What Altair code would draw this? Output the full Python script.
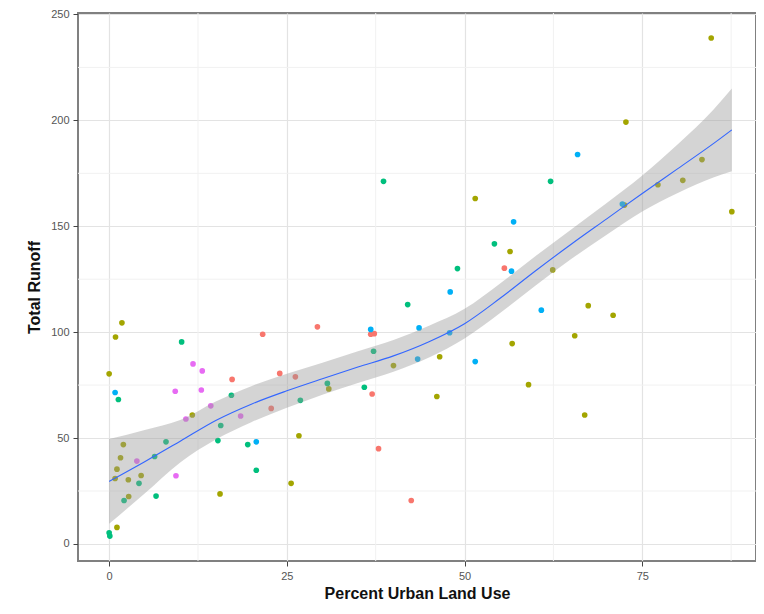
import altair as alt
import pandas as pd

# ---- scatter points (x = % urban land use, y = total runoff) ----
red_x = [21.6, 29.3, 36.8, 37.3, 24.0, 26.2, 17.3, 37.0, 22.8, 37.9, 42.5, 55.6]
red_y = [99.0, 102.5, 99.0, 99.3, 80.5, 78.9, 77.7, 70.8, 64.0, 45.0, 20.5, 130.2]

olive_x = [1.8, 0.9, 0.0, 11.7, 2.0, 1.6, 1.1, 0.84, 2.7, 4.5, 2.75, 15.6, 1.1, 30.9, 26.7,
           25.6, 51.5, 56.4, 62.4, 46.5, 40.0, 56.7, 59.0, 46.1, 72.7, 72.5, 77.2, 67.4,
           70.9, 65.5, 66.9, 84.7, 83.4, 80.7, 87.6]
olive_y = [104.4, 97.7, 80.3, 60.9, 46.9, 40.7, 35.3, 30.9, 30.3, 32.3, 22.4, 23.6, 7.8, 73.2,
           51.1, 28.6, 163.1, 138.1, 129.4, 88.4, 84.2, 94.6, 75.2, 69.6, 199.2, 160.0, 169.6,
           112.5, 108.0, 98.3, 60.9, 238.9, 181.5, 171.7, 156.9]

green_x = [10.2, 1.3, 17.2, 15.7, 8.0, 15.3, 19.5, 6.4, 20.7, 4.2, 2.1, 6.6, 0.0, 0.1, 37.2,
           30.7, 35.9, 26.9, 38.6, 62.1, 54.2, 49.0, 42.0]
green_y = [95.4, 68.2, 70.2, 55.9, 48.2, 48.8, 46.9, 41.3, 34.8, 28.6, 20.5, 22.6, 5.3, 3.7,
           91.0, 75.8, 74.0, 67.8, 171.2, 171.2, 141.7, 130.0, 113.0]

blue_x = [0.84, 20.7, 36.8, 56.9, 56.6, 47.98, 60.8, 43.6, 47.9, 43.4, 51.5, 65.9, 72.2]
blue_y = [71.5, 48.2, 101.3, 152.1, 128.8, 119.0, 110.4, 102.0, 99.7, 87.3, 86.1, 183.9, 160.5]

magenta_x = [11.8, 13.1, 9.3, 12.97, 14.3, 10.8, 18.5, 3.9, 9.4]
magenta_y = [85.0, 81.7, 72.1, 72.7, 65.2, 59.0, 60.4, 39.1, 32.2]

group_names = ["1", "2", "3", "4", "5"]
group_colors = ["#F8766D", "#A3A500", "#00BF7D", "#00B0F6", "#E76BF3"]

# ---- smoother (loess fit and its confidence band) ----
smooth_x = [0, 5, 10, 15, 20, 25, 30, 35, 40, 45, 50, 55, 60, 65, 70, 75, 80, 85, 87.6]
smooth_fit = [29.5, 38.8, 48.5, 58.3, 66.0, 72.3, 78.0, 83.5, 88.8, 95.5, 104.0, 116.0, 129.0,
              141.5, 153.5, 165.5, 177.2, 189.0, 195.5]
smooth_lo = [9.5, 23.8, 38.5, 49.3, 57.5, 64.3, 70.5, 76.0, 81.3, 88.0, 97.0, 109.0, 122.0,
             134.5, 146.0, 157.0, 165.7, 173.0, 176.0]
smooth_hi = [49.5, 53.8, 58.5, 67.3, 74.5, 80.3, 85.5, 91.0, 96.3, 103.0, 111.0, 123.0, 136.0,
             148.5, 161.0, 174.0, 188.7, 205.0, 215.0]

# ---- ticks / grid ----
x_ticks = [0, 25, 50, 75]
y_ticks = [0, 50, 100, 150, 200, 250]
x_minor = [12.5, 37.5, 62.5, 87.5]
y_minor = [25, 75, 125, 175, 225]

rows = []
for g, xs, ys in zip(group_names,
                     [red_x, olive_x, green_x, blue_x, magenta_x],
                     [red_y, olive_y, green_y, blue_y, magenta_y]):
    for xv, yv in zip(xs, ys):
        rows.append({"urban": xv, "runoff": yv, "group": g})
pts = pd.DataFrame(rows)
smooth = pd.DataFrame({"urban": smooth_x, "fit": smooth_fit, "lo": smooth_lo, "hi": smooth_hi})

xscale = alt.Scale(domain=[-4.38, 91.0], nice=False, zero=False)
yscale = alt.Scale(domain=[-8.06, 250.7], nice=False, zero=False)

FONT = "Liberation Sans"
x_axis = alt.Axis(values=x_ticks, grid=True, gridColor="#e3e3e3", gridWidth=1.2,
                  domain=False, ticks=True, tickColor="#444444", tickSize=5, tickWidth=1,
                  labelColor="#555555", labelFont=FONT, labelFontSize=11, labelPadding=4,
                  title="Percent Urban Land Use", titleFont=FONT, titleFontSize=16,
                  titleFontWeight="bold", titleColor="#111111", titlePadding=4)
y_axis = alt.Axis(values=y_ticks, grid=True, gridColor="#e3e3e3", gridWidth=1.2,
                  domain=False, ticks=True, tickColor="#444444", tickSize=5, tickWidth=1,
                  labelColor="#555555", labelFont=FONT, labelFontSize=11, labelPadding=4,
                  title="Total Runoff", titleFont=FONT, titleFontSize=16,
                  titleFontWeight="bold", titleColor="#111111", titlePadding=8)

minor_v = alt.Chart(pd.DataFrame({"v": x_minor})).mark_rule(color="#f1f1f1", strokeWidth=1).encode(
    x=alt.X("v:Q", scale=xscale, axis=x_axis))
minor_h = alt.Chart(pd.DataFrame({"v": y_minor})).mark_rule(color="#f1f1f1", strokeWidth=1).encode(
    y=alt.Y("v:Q", scale=yscale, axis=y_axis))

points = alt.Chart(pts).mark_circle(size=32, opacity=1).encode(
    x=alt.X("urban:Q", scale=xscale, axis=x_axis),
    y=alt.Y("runoff:Q", scale=yscale, axis=y_axis),
    color=alt.Color("group:N", scale=alt.Scale(domain=group_names, range=group_colors), legend=None),
)

band = alt.Chart(smooth).mark_area(color="#999999", opacity=0.42, interpolate="monotone").encode(
    x=alt.X("urban:Q", scale=xscale, axis=x_axis),
    y=alt.Y("lo:Q", scale=yscale, axis=y_axis),
    y2="hi:Q",
)

line = alt.Chart(smooth).mark_line(color="#3366FF", strokeWidth=1.1, interpolate="monotone").encode(
    x=alt.X("urban:Q", scale=xscale, axis=x_axis),
    y=alt.Y("fit:Q", scale=yscale, axis=y_axis),
)

chart = alt.layer(minor_v, minor_h, points, band, line).properties(
    width=678,
    height=548,
    background="white",
    autosize=alt.AutoSizeParams(type="none"),
    padding={"left": 70, "top": 5, "right": 0, "bottom": 45},
).configure_view(
    stroke="#808080", strokeWidth=2
)

chart.save("out.html", embed_options={"renderer": "svg", "actions": False})
